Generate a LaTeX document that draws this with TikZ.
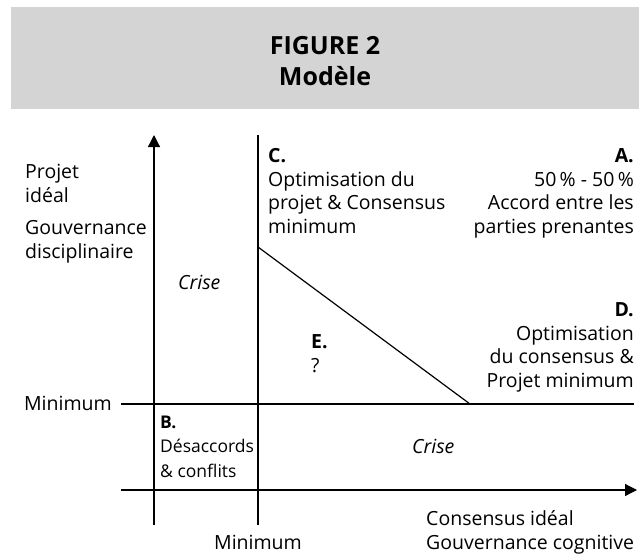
\documentclass[tikz,border=0pt]{standalone}
\usepackage{fontspec}
\setmainfont{Open Sans}
\usetikzlibrary{positioning,arrows.meta}
\colorlet{bannerColor}{black!17}

\begin{document}
\begin{tikzpicture}[x=1pt, y=-1pt,
    txt/.style={inner sep=0, font=\fontsize{19.5}{23.5}\selectfont},
    lbl/.style={txt, align=left, anchor=base west},
    rlbl/.style={txt, align=right, anchor=base east},
    crise/.style={txt, font=\fontsize{19.5}{23.5}\selectfont\itshape, anchor=base west},
    axis/.style={line width=1.2pt, -{Triangle[length=12pt, width=12pt]}},
    grid/.style={line width=1.2pt}
  ]
  \useasboundingbox (0,0) rectangle (639,555);
  \fill[bannerColor] (11,7) rectangle (639,109);
  \node[inner sep=0, font=\bfseries\fontsize{25}{31}\selectfont, align=center, anchor=base] (title) at (325,85) {FIGURE 2\\Modèle};

  \coordinate (ybot) at (154,525);
  \coordinate (ytop) at (154,135);
  \coordinate (xleft) at (121,490);
  \coordinate (xright) at (637,490);
  \coordinate (mbot) at (258,525);
  \coordinate (mtop) at (258,135);
  \coordinate (hleft) at (121,404);
  \coordinate (hright) at (634,404);
  \coordinate (dtop) at (258,247);
  \coordinate (dbot) at (470,404);

  \draw[axis] (ybot) -- (ytop);
  \draw[axis] (xleft) -- (xright);
  \draw[grid] (mbot) -- (mtop);
  \draw[grid] (hleft) -- (hright);
  \draw[grid] (dtop) -- (dbot);

  \node[lbl] (projet) at (25,202) {Projet\\idéal};
  \node[lbl] (gouvD) at (25,258) {Gouvernance\\disciplinaire};
  \node[rlbl] (minY) at (112,410) {Minimum};
  \node[crise] (crise1) at (178,289) {Crise};
  \node[lbl] (C) at (268,233) {\textbf{C.}\\Optimisation du\\projet \& Consensus\\minimum};
  \node[rlbl] (A) at (634,233) {\textbf{A.}\\50\,\% - 50\,\%\\Accord entre les\\parties prenantes};
  \node[rlbl] (D) at (634,387) {\textbf{D.}\\Optimisation\\du consensus \&\\Projet minimum};
  \node[lbl] (E) at (311,372) {\textbf{E.}\\?};
  \node[lbl, font=\fontsize{17.5}{24.5}\selectfont] (B) at (160,477) {\textbf{B.}\\Désaccords\\\& conflits};
  \node[crise] (crise2) at (412,453) {Crise};
  \node[txt, anchor=base] (minX) at (258,549) {Minimum};
  \node[lbl] (consI) at (426,549) {Consensus idéal\\Gouvernance cognitive};
\end{tikzpicture}
\end{document}
